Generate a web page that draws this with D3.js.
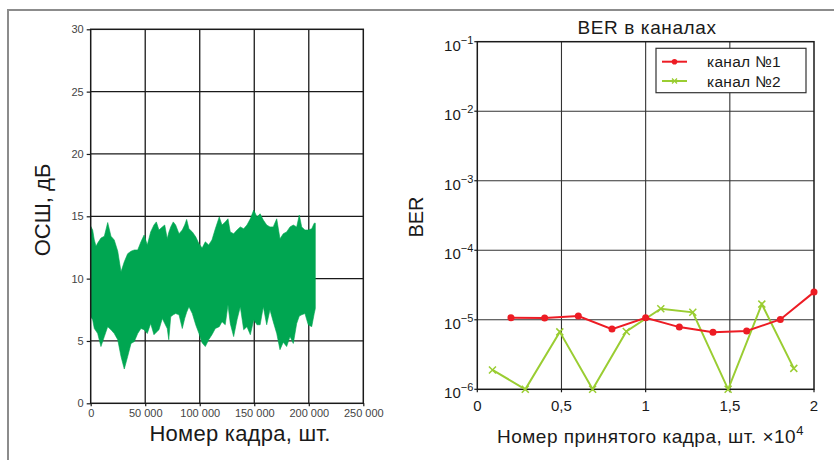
<!DOCTYPE html>
<html>
<head>
<meta charset="utf-8">
<script src="https://cdn.jsdelivr.net/npm/d3@7"></script>
<style>
  body { margin: 0; background: #fff; }
  svg { display: block; font-family: "Liberation Sans", Arial, sans-serif; }
</style>
</head>
<body>
<svg id="chart" width="834" height="460"></svg>
<script>
// SNR envelope (frame number, upper and lower edge, dB)
const snrFrames = [0, 1800, 3300, 4900, 6400, 9400, 12500, 15600, 18600, 21600, 24800, 27800, 30800, 33900,
  37000, 40000, 43100, 46100, 49000, 51900, 55000, 58000, 60200, 62600, 65700, 67900, 70200, 71600, 73400,
  75700, 77900, 81000, 84000, 86200, 88000, 90100, 93200, 96300, 99300, 102200, 105100, 108200, 111200,
  114300, 117900, 120400, 123400, 125900, 128000, 131100, 134200, 137200, 140300, 143300, 146400, 149500,
  152500, 155400, 158300, 161400, 164400, 167400, 170600, 173600, 176600, 179700, 182800, 185800, 188900,
  191300, 193500, 196500, 199500, 202700, 205000, 206000];
const snrHigh = [14.2, 13.9, 13.1, 12.6, 12.85, 13.25, 13.4, 14.5, 13.4, 13.1, 12.2, 10.55, 11.35, 12.0,
  12.2, 12.3, 12.3, 12.96, 13.5, 12.7, 13.75, 14.3, 14.55, 13.9, 14.15, 14.3, 13.2, 13.7, 14.15,
  14.55, 14.3, 13.6, 13.9, 14.3, 14.75, 14.0, 13.75, 13.35, 12.8, 12.45, 12.95, 12.7, 13.1,
  14.0, 14.95, 14.3, 14.55, 14.8, 13.75, 13.6, 13.9, 14.15, 14.0, 14.3, 14.8, 15.5,
  14.95, 15.2, 14.7, 14.3, 14.15, 14.15, 14.8, 13.2, 13.6, 13.75, 14.15, 14.3, 14.15,
  15.1, 14.15, 13.9, 13.9, 14.0, 14.45, 14.45];
const snrLow = [6.95, 6.7, 6.0, 5.8, 5.6, 4.55, 5.35, 6.15, 5.9, 5.6, 5.1, 3.75, 2.75, 3.75,
  4.8, 4.95, 5.6, 6.0, 5.9, 5.6, 6.4, 5.5, 5.7, 5.9, 6.8, 6.4, 6.0, 5.1, 6.95,
  7.1, 7.2, 7.1, 6.0, 6.8, 7.3, 7.75, 7.2, 6.3, 5.6, 4.85, 4.55, 5.1, 5.5,
  6.0, 6.15, 6.55, 6.3, 7.9, 6.4, 5.35, 6.7, 7.75, 5.9, 6.15, 5.5, 6.7,
  6.3, 6.3, 7.75, 6.3, 7.5, 6.55, 5.6, 4.3, 4.9, 4.55, 5.35, 4.8, 6.4,
  7.0, 7.1, 7.2, 6.3, 6.15, 7.2, 7.6];

const snrXTicks = [0, 50000, 100000, 150000, 200000, 250000];
const snrYTicks = [0, 5, 10, 15, 20, 25, 30];

// BER per channel (frame number in units of 10^4)
const ch1X = [0.2, 0.4, 0.6, 0.8, 1.0, 1.2, 1.4, 1.6, 1.8, 2.0];
const ch1Ber = [1.07e-5, 1.06e-5, 1.13e-5, 7.35e-6, 1.07e-5, 7.85e-6, 6.6e-6, 6.9e-6, 1.01e-5, 2.5e-5];
const ch2X = [0.09, 0.285, 0.49, 0.685, 0.885, 1.09, 1.28, 1.49, 1.69, 1.88];
const ch2Ber = [1.9e-6, 1e-6, 6.7e-6, 1e-6, 6.8e-6, 1.44e-5, 1.28e-5, 1e-6, 1.68e-5, 2.0e-6];

const berXTicks = [0, 0.5, 1, 1.5, 2];
const berXLabels = ["0", "0,5", "1", "1,5", "2"];
const berYExp = [-1, -2, -3, -4, -5, -6];
const legendNames = ["канал №1", "канал №2"];

const svg = d3.select('#chart');
const ink = '#1a1a1a';

// outer frame (top and left edges only)
svg.append('path')
  .attr('d', 'M8,460 L8,10 L834,10')
  .attr('fill', 'none')
  .attr('stroke', '#8c8c8c')
  .attr('stroke-width', 2);

// ---------- left chart: SNR ----------
const x1 = d3.scaleLinear().domain([0, 250000]).range([90.7, 363.3]);
const y1 = d3.scaleLinear().domain([0, 30]).range([403.3, 29.3]);
const g1 = svg.append('g');

// grid first, the green band covers it
g1.selectAll('.vg').data(snrXTicks.slice(1, -1)).enter().append('line')
  .attr('x1', d => x1(d)).attr('x2', d => x1(d))
  .attr('y1', y1(0)).attr('y2', y1(30))
  .attr('stroke', ink).attr('stroke-width', 1.3);
g1.selectAll('.hg').data(snrYTicks.slice(1, -1)).enter().append('line')
  .attr('x1', x1(0)).attr('x2', x1(250000))
  .attr('y1', d => y1(d)).attr('y2', d => y1(d))
  .attr('stroke', ink).attr('stroke-width', 1.3);

// green band
const pts = snrFrames.map((f, i) => [f, snrHigh[i]])
  .concat(snrFrames.map((f, i) => [f, snrLow[i]]).reverse());
g1.append('path')
  .attr('d', d3.line().x(d => x1(d[0])).y(d => y1(d[1]))(pts) + 'Z')
  .attr('fill', '#00a651')
  .attr('stroke', '#00a651')
  .attr('stroke-width', 0.6);

g1.append('rect')
  .attr('x', x1(0)).attr('y', y1(30))
  .attr('width', x1(250000) - x1(0)).attr('height', y1(0) - y1(30))
  .attr('fill', 'none').attr('stroke', ink).attr('stroke-width', 1.5);

// axes
const ax1 = g1.append('g').attr('transform', `translate(0,${y1(0)})`)
  .call(d3.axisBottom(x1).tickValues(snrXTicks).tickSize(3).tickPadding(3)
    .tickFormat(d => d === 0 ? '0' : d3.format(',')(d).replace(/,/g, ' ')));
const ay1 = g1.append('g').attr('transform', `translate(${x1(0)},0)`)
  .call(d3.axisLeft(y1).tickValues(snrYTicks).tickSize(4).tickPadding(3));
[ax1, ay1].forEach(a => {
  a.select('.domain').remove();
  a.selectAll('line').attr('stroke', ink).attr('stroke-width', 1.2);
  a.selectAll('text').attr('fill', '#444').style('font-size', '11px')
    .style('font-family', '"Liberation Sans", Arial, sans-serif');
});

g1.append('text')
  .attr('transform', 'translate(50,210) rotate(-90)')
  .attr('text-anchor', 'middle')
  .attr('fill', ink)
  .style('font-size', '22px')
  .text('ОСШ, дБ');
g1.append('text')
  .attr('x', 240).attr('y', 441)
  .attr('text-anchor', 'middle')
  .attr('fill', ink)
  .style('font-size', '22px')
  .style('letter-spacing', '0.25px')
  .text('Номер кадра, шт.');

// ---------- right chart: BER ----------
const x2 = d3.scaleLinear().domain([0, 2]).range([477.3, 814]);
const y2 = d3.scaleLog().domain([1e-6, 1e-1]).range([389.3, 41.7]);
const g2 = svg.append('g');

g2.selectAll('.vg').data(berXTicks.slice(1, -1)).enter().append('line')
  .attr('x1', d => x2(d)).attr('x2', d => x2(d))
  .attr('y1', y2(1e-6)).attr('y2', y2(1e-1))
  .attr('stroke', '#333').attr('stroke-width', 1.1);
g2.selectAll('.hg').data(berYExp.slice(1, -1)).enter().append('line')
  .attr('x1', x2(0)).attr('x2', x2(2))
  .attr('y1', d => y2(Math.pow(10, d))).attr('y2', d => y2(Math.pow(10, d)))
  .attr('stroke', '#333').attr('stroke-width', 1.1);
g2.append('rect')
  .attr('x', x2(0)).attr('y', y2(1e-1))
  .attr('width', x2(2) - x2(0)).attr('height', y2(1e-6) - y2(1e-1))
  .attr('fill', 'none').attr('stroke', ink).attr('stroke-width', 1.5);

// ticks
g2.selectAll('.xt').data(berXTicks).enter().append('line')
  .attr('x1', d => x2(d)).attr('x2', d => x2(d))
  .attr('y1', y2(1e-6)).attr('y2', y2(1e-6) + 3)
  .attr('stroke', ink).attr('stroke-width', 1.2);
g2.selectAll('.xl').data(berXTicks).enter().append('text')
  .attr('x', d => x2(d)).attr('y', y2(1e-6) + 22)
  .attr('text-anchor', 'middle')
  .attr('fill', ink)
  .style('font-size', '15px')
  .text((d, i) => berXLabels[i]);
g2.selectAll('.yt').data(berYExp).enter().append('line')
  .attr('x1', x2(0) - 3).attr('x2', x2(0))
  .attr('y1', d => y2(Math.pow(10, d))).attr('y2', d => y2(Math.pow(10, d)))
  .attr('stroke', ink).attr('stroke-width', 1.2);
const yl = g2.selectAll('.yl').data(berYExp).enter().append('text')
  .attr('x', x2(0) - 4).attr('y', d => y2(Math.pow(10, d)) + 9)
  .attr('text-anchor', 'end')
  .attr('fill', ink)
  .style('font-size', '15px');
yl.append('tspan').text('10');
yl.append('tspan').attr('dy', -7).style('font-size', '11px').text(d => '\u2212' + (-d));

// series
const line2 = d3.line().x(d => x2(d[0])).y(d => y2(d[1]));
const s1 = ch1X.map((v, i) => [v, ch1Ber[i]]);
const s2 = ch2X.map((v, i) => [v, ch2Ber[i]]);
const red = '#ed1c24', lime = '#9acd32';

g2.append('path').attr('d', line2(s2))
  .attr('fill', 'none').attr('stroke', lime).attr('stroke-width', 2);
g2.selectAll('.m2').data(s2).enter().append('path')
  .attr('d', d => { const cx = x2(d[0]), cy = y2(d[1]), r = 3.5;
    return `M${cx - r},${cy - r}L${cx + r},${cy + r}M${cx - r},${cy + r}L${cx + r},${cy - r}`; })
  .attr('stroke', lime).attr('stroke-width', 1.5);
g2.append('path').attr('d', line2(s1))
  .attr('fill', 'none').attr('stroke', red).attr('stroke-width', 2);
g2.selectAll('.m1').data(s1).enter().append('circle')
  .attr('cx', d => x2(d[0])).attr('cy', d => y2(d[1])).attr('r', 3.5)
  .attr('fill', red);

// legend
const lg = g2.append('g');
lg.append('rect').attr('x', 656).attr('y', 48.3).attr('width', 150).attr('height', 44.4)
  .attr('fill', '#fff').attr('stroke', '#333').attr('stroke-width', 1.2);
legendNames.forEach((name, i) => {
  const ly = 61.7 + i * 19.3;
  const col = i === 0 ? red : lime;
  lg.append('line').attr('x1', 662).attr('x2', 687).attr('y1', ly).attr('y2', ly)
    .attr('stroke', col).attr('stroke-width', 2);
  if (i === 0) {
    lg.append('circle').attr('cx', 674.5).attr('cy', ly).attr('r', 2.8).attr('fill', col);
  } else {
    lg.append('path').attr('d', `M672,${ly - 2.5}L677,${ly + 2.5}M672,${ly + 2.5}L677,${ly - 2.5}`)
      .attr('stroke', col).attr('stroke-width', 1.3);
  }
  lg.append('text').attr('x', 707).attr('y', ly + 5.5)
    .attr('fill', ink).style('font-size', '15.5px').style('letter-spacing', '0.3px').text(name);
});

// titles
g2.append('text').attr('x', 647).attr('y', 34)
  .attr('text-anchor', 'middle').attr('fill', ink)
  .style('font-size', '19px').style('letter-spacing', '0.6px').text('BER в каналах');
g2.append('text')
  .attr('transform', 'translate(423,217) rotate(-90)')
  .attr('text-anchor', 'middle').attr('fill', ink)
  .style('font-size', '20px').text('BER');
const xt = g2.append('text').attr('x', 497).attr('y', 443)
  .attr('fill', ink).style('font-size', '19px').style('letter-spacing', '0.5px');
xt.append('tspan').text('Номер принятого кадра, шт. ×10');
xt.append('tspan').attr('dy', -8).style('font-size', '13px').text('4');
</script>
</body>
</html>
